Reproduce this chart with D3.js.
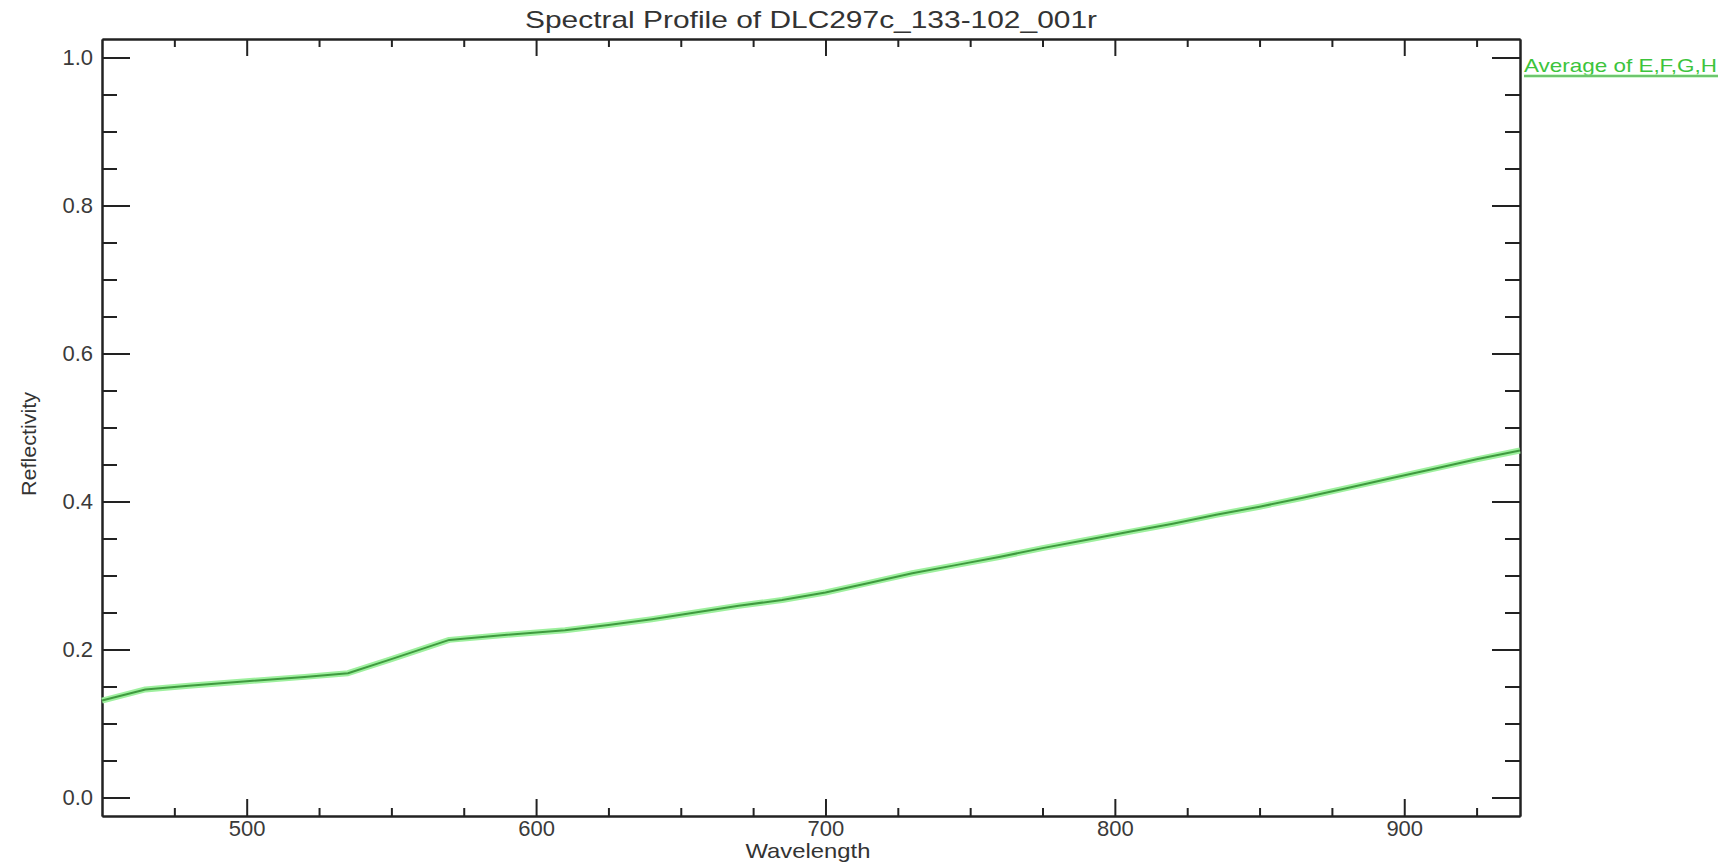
<!DOCTYPE html>
<html>
<head>
<meta charset="utf-8">
<script src="https://cdn.jsdelivr.net/npm/d3@7/dist/d3.min.js"></script>
<style>
  html, body { margin: 0; padding: 0; background: #fff; }
  svg { display: block; }
  text { font-family: "Liberation Sans", Arial, sans-serif; }
</style>
</head>
<body>
<svg id="chart" width="1729" height="864"></svg>
<script>
// ---- data ----
const wavelength = [450, 465, 480, 500, 520, 535, 550, 570, 590, 610, 625, 640, 655, 670, 685, 700,
                    715, 730, 745, 760, 775, 790, 805, 820, 835, 850, 865, 880, 895, 910, 925, 940];
const reflectivity = [0.131, 0.146, 0.151, 0.157, 0.163, 0.168, 0.187, 0.213, 0.220, 0.226, 0.233, 0.241,
                      0.250, 0.259, 0.267, 0.277, 0.290, 0.303, 0.314, 0.325, 0.337, 0.348, 0.359, 0.370,
                      0.382, 0.393, 0.405, 0.418, 0.431, 0.444, 0.457, 0.469];
const xMajorTicks = [500, 600, 700, 800, 900];
const xMinorTicks = [475, 525, 550, 575, 625, 650, 675, 725, 750, 775, 825, 850, 875, 925];
const yMajorTicks = [0.0, 0.2, 0.4, 0.6, 0.8, 1.0];
const yMinorTicks = [0.05, 0.1, 0.15, 0.25, 0.3, 0.35, 0.45, 0.5, 0.55, 0.65, 0.7, 0.75, 0.85, 0.9, 0.95];
const titleText = "Spectral Profile of DLC297c_133-102_001r";
const xLabel = "Wavelength";
const yLabel = "Reflectivity";
const legendLabel = "Average of E,F,G,H";

// ---- layout ----
const L = 102, R = 1520, T = 39, B = 816;
const svg = d3.select("#chart");

const x = d3.scaleLinear().domain([450, 940]).range([L, R]);
const y = d3.scaleLinear().domain([-0.025, 1.025]).range([B, T]);

function styleAxis(g) {
  g.selectAll("path.domain").attr("stroke", "#222").attr("stroke-width", 2);
  g.selectAll(".tick line").attr("stroke", "#222").attr("stroke-width", 2);
  g.selectAll(".tick text").style("font-family", '"Liberation Sans", Arial, sans-serif')
    .style("font-size", "22px").style("fill", "#3a3a3a");
}

// bottom
svg.append("g").attr("transform", `translate(0,${B})`)
  .call(d3.axisBottom(x).tickValues(xMajorTicks).tickSizeInner(-17).tickSizeOuter(0).tickPadding(4).tickFormat(d3.format("d")))
  .call(styleAxis);
svg.append("g").attr("transform", `translate(0,${B})`)
  .call(d3.axisBottom(x).tickValues(xMinorTicks).tickSizeInner(-8).tickSizeOuter(0).tickFormat(""))
  .call(styleAxis);
// top
svg.append("g").attr("transform", `translate(0,${T})`)
  .call(d3.axisTop(x).tickValues(xMajorTicks).tickSizeInner(-17).tickSizeOuter(0).tickFormat(""))
  .call(styleAxis);
svg.append("g").attr("transform", `translate(0,${T})`)
  .call(d3.axisTop(x).tickValues(xMinorTicks).tickSizeInner(-8).tickSizeOuter(0).tickFormat(""))
  .call(styleAxis);
// left
svg.append("g").attr("transform", `translate(${L},0)`)
  .call(d3.axisLeft(y).tickValues(yMajorTicks).tickSizeInner(-28).tickSizeOuter(0).tickPadding(9).tickFormat(d3.format(".1f")))
  .call(styleAxis);
svg.append("g").attr("transform", `translate(${L},0)`)
  .call(d3.axisLeft(y).tickValues(yMinorTicks).tickSizeInner(-15).tickSizeOuter(0).tickFormat(""))
  .call(styleAxis);
// right
svg.append("g").attr("transform", `translate(${R},0)`)
  .call(d3.axisRight(y).tickValues(yMajorTicks).tickSizeInner(-28).tickSizeOuter(0).tickFormat(""))
  .call(styleAxis);
svg.append("g").attr("transform", `translate(${R},0)`)
  .call(d3.axisRight(y).tickValues(yMinorTicks).tickSizeInner(-15).tickSizeOuter(0).tickFormat(""))
  .call(styleAxis);

// ---- data line ----
const pts = wavelength.map((w, i) => [w, reflectivity[i]]);
const line = d3.line().x(d => x(d[0])).y(d => y(d[1]));
svg.append("path").datum(pts).attr("d", line)
  .attr("fill", "none").attr("stroke", "#9ef09e").attr("stroke-width", 6).attr("stroke-linejoin", "round");
svg.append("path").datum(pts).attr("d", line)
  .attr("fill", "none").attr("stroke", "#3f9a3f").attr("stroke-width", 2).attr("stroke-linejoin", "round");

// ---- texts ----
svg.append("text").attr("x", (L + R) / 2).attr("y", 28).attr("text-anchor", "middle")
  .style("font-size", "24px").attr("textLength", 572).attr("lengthAdjust", "spacingAndGlyphs")
  .style("fill", "#333").text(titleText);

svg.append("text").attr("x", 808).attr("y", 858).attr("text-anchor", "middle")
  .style("font-size", "21px").attr("textLength", 125).attr("lengthAdjust", "spacingAndGlyphs")
  .style("fill", "#333").text(xLabel);

svg.append("text").attr("transform", "translate(36,444) rotate(-90)").attr("text-anchor", "middle")
  .style("font-size", "21px").attr("textLength", 104).attr("lengthAdjust", "spacingAndGlyphs")
  .style("fill", "#333").text(yLabel);

// ---- legend ----
svg.append("text").attr("x", 1524).attr("y", 72)
  .style("font-size", "19px").attr("textLength", 193).attr("lengthAdjust", "spacingAndGlyphs")
  .style("fill", "#3cc43c").text(legendLabel);
svg.append("line").attr("x1", 1524).attr("x2", 1718).attr("y1", 76).attr("y2", 76)
  .attr("stroke", "#9ef09e").attr("stroke-width", 3);
svg.append("line").attr("x1", 1524).attr("x2", 1718).attr("y1", 76).attr("y2", 76)
  .attr("stroke", "#3f9a3f").attr("stroke-width", 1.2);
</script>
</body>
</html>
